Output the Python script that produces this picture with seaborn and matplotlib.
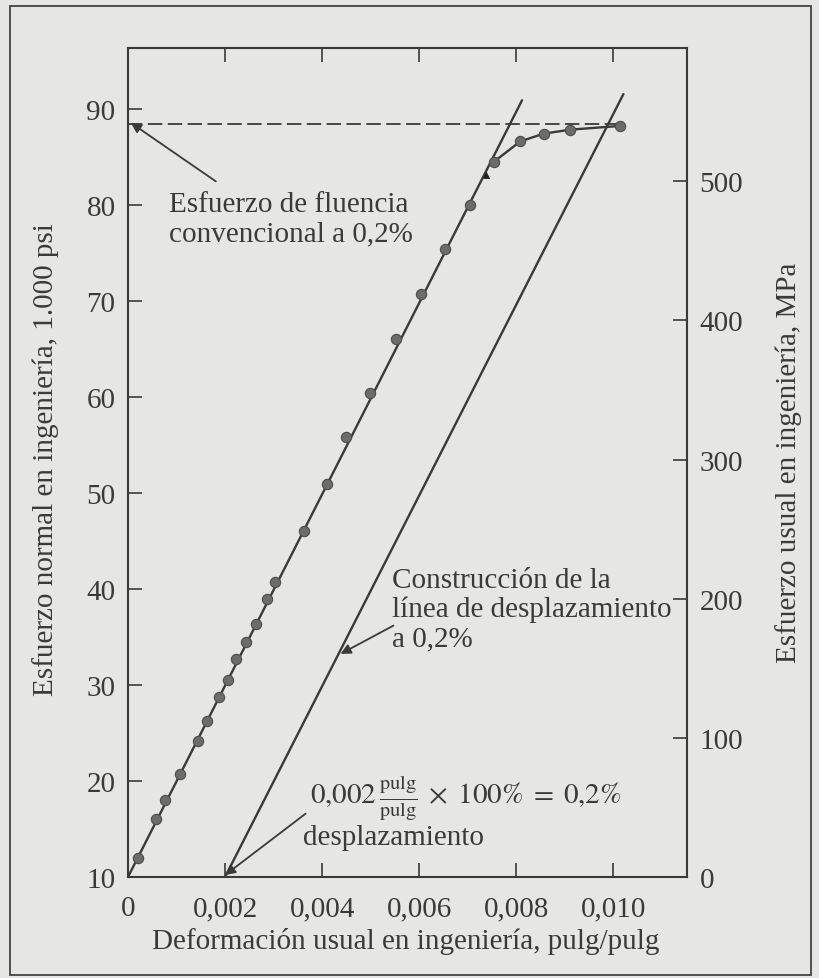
import matplotlib
matplotlib.use('Agg')
import matplotlib.pyplot as plt
from matplotlib.patches import Rectangle
import seaborn as sns
import pandas as pd

# ---------------- data ----------------
strain = [0.000200, 0.000576, 0.000761, 0.00107, 0.001434, 0.001626, 0.001879,
          0.002064, 0.002222, 0.002428, 0.002634, 0.002874, 0.003031, 0.003628,
          0.004095, 0.004500, 0.004986, 0.005514, 0.006043, 0.006529, 0.007043,
          0.007537, 0.008086, 0.008566, 0.009115, 0.010144]
stress = [11.95, 16.05, 18.06, 20.71, 24.21, 26.24, 28.74, 30.54, 32.73, 34.47,
          36.38, 38.99, 40.73, 46.05, 50.98, 55.85, 60.47, 66.10, 70.72, 75.49,
          80.00, 84.53, 86.67, 87.47, 87.89, 88.28]

elastic_x = [0.0, 0.00812]
elastic_y = [10.0, 90.95]
offset_x = [0.0020, 0.01021]
offset_y = [10.0, 91.6]
yield_x = [0.0, 0.0101]
yield_y = [88.5, 88.5]
mark_x = [0.00737]
mark_y = [83.2]

x_ticks = [0, 0.002, 0.004, 0.006, 0.008, 0.010]
x_tick_labels = ['0', '0,002', '0,004', '0,006', '0,008', '0,010']
y_ticks = [10, 20, 30, 40, 50, 60, 70, 80, 90]
mpa_ticks = [0, 100, 200, 300, 400, 500]
KSI_TO_MPA = 6.895

# ---------------- style ----------------
sns.set_style('ticks')
plt.rcParams['font.family'] = ['Liberation Serif', 'DejaVu Serif']
plt.rcParams['mathtext.fontset'] = 'stix'
BG = '#e6e6e4'
INK = '#3a3a3a'
FS = 21

fig = plt.figure(figsize=(8.19, 9.79), dpi=100, facecolor=BG)
ax = fig.add_axes([128/819, 1-878/979, 559/819, 829/979])
ax.set_facecolor(BG)

df = pd.DataFrame({'strain': strain, 'stress': stress})
knee = df.iloc[21:]

sns.lineplot(x=elastic_x, y=elastic_y, ax=ax, color=INK, lw=1.7,
             sort=False, estimator=None, legend=False)
sns.lineplot(x=offset_x, y=offset_y, ax=ax, color=INK, lw=1.7,
             sort=False, estimator=None, legend=False)
sns.lineplot(x=yield_x, y=yield_y, ax=ax, color=INK, lw=1.3,
             linestyle=(0, (8, 3)), sort=False, estimator=None, legend=False)
sns.lineplot(data=knee, x='strain', y='stress', ax=ax, color=INK, lw=1.7,
             sort=False, estimator=None, legend=False)
sns.scatterplot(data=df, x='strain', y='stress', ax=ax, s=55, color='#6c6c6c',
                edgecolor='#4c4c4c', linewidth=0.8, zorder=3, legend=False)
sns.scatterplot(x=mark_x, y=mark_y, ax=ax, s=22, marker='^', color='#202020',
                edgecolor='#202020', zorder=4, legend=False)

ax.set_xlim(0, 0.01152)
ax.set_ylim(10, 96.4)
ax.set_xticks(x_ticks)
ax.set_xticklabels(x_tick_labels)
ax.set_yticks(y_ticks)
ax.set_xlabel('')
ax.set_ylabel('')
ax.tick_params(direction='in', length=10, width=1.2, colors=INK, labelsize=FS)
ax.tick_params(axis='x', top=True, pad=13)
ax.tick_params(axis='y', right=False, pad=9)
for s in ax.spines.values():
    s.set_visible(True)
    s.set_linewidth(1.5)
    s.set_color(INK)

ax2 = ax.twinx()
ax2.set_ylim(0, (96.4 - 10) * KSI_TO_MPA)
ax2.set_yticks(mpa_ticks)
ax2.set_yticklabels([str(t) for t in mpa_ticks])
ax2.tick_params(direction='in', length=10, width=1.2, colors=INK,
                labelsize=FS, pad=9, left=False)
for s in ax2.spines.values():
    s.set_visible(False)

# ---------------- annotations ----------------
arrow = dict(arrowstyle='-|>', color=INK, lw=1.3, mutation_scale=15,
             shrinkA=0, shrinkB=0)
ax.annotate('', xy=(0.00006, 88.6), xytext=(0.00181, 82.5), arrowprops=arrow)
ax.text(0.00084, 78.6, 'Esfuerzo de fluencia\nconvencional a 0,2%',
        fontsize=FS, color=INK, ha='left', va='center', linespacing=1.15)

ax.annotate('', xy=(0.00438, 33.25), xytext=(0.00547, 36.2), arrowprops=arrow)
ax.text(0.00545, 37.95, 'Construcción de la\nlínea de desplazamiento\na 0,2%',
        fontsize=FS, color=INK, ha='left', va='center', linespacing=1.15)

ax.annotate('', xy=(0.0020, 10.2), xytext=(0.00366, 16.6), arrowprops=arrow)
ax.text(0.00376, 18.34,
        r'$0{,}002\,\frac{\mathrm{pulg}}{\mathrm{pulg}}\;\times\;100\%\;=\;0{,}2\%$',
        fontsize=FS, color=INK, ha='left', va='center')
ax.text(0.0036, 14.17, 'desplazamiento', fontsize=FS, color=INK,
        ha='left', va='center')

# ---------------- axis titles ----------------
fig.text(406/819, 1-942/979, 'Deformación usual en ingeniería, pulg/pulg',
         fontsize=FS, color=INK, ha='center', va='center')
fig.text(46/819, 1-460/979, 'Esfuerzo normal en ingeniería, 1.000 psi',
         fontsize=FS, color=INK, ha='center', va='center', rotation=90)
fig.text(789/819, 1-463/979, 'Esfuerzo usual en ingeniería, MPa',
         fontsize=FS, color=INK, ha='center', va='center', rotation=90)

fig.add_artist(Rectangle((10/819, 1-976/979), 801/819, 969/979,
                         transform=fig.transFigure, fill=False,
                         edgecolor='#444444', lw=1.3))

fig.savefig('out.png', dpi=100, facecolor=BG)
